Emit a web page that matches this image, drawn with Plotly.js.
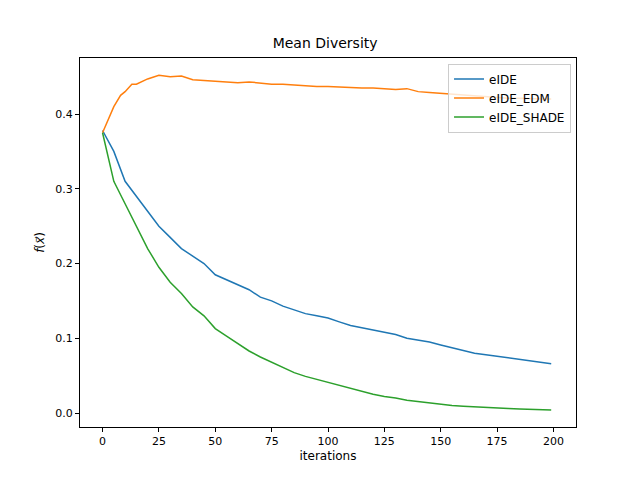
<!DOCTYPE html>
<html>
<head>
<script src="https://cdn.plot.ly/plotly-3.0.1.min.js"></script>
<style>body{margin:0}#plot{width:640px;height:480px}</style>
</head>
<body>
<div id="plot"></div>
<script>
const iterations = [0,5,10,15,20,25,30,35,40,45,50,55,60,65,70,75,80,85,90,95,100,105,110,115,120,125,130,135,140,145,150,155,160,165,170,175,180,185,190,195,199];
const eIDE = [0.378,0.35,0.31,0.29,0.27,0.25,0.235,0.22,0.21,0.2,0.185,0.178,0.172,0.165,0.155,0.15,0.143,0.138,0.133,0.13,0.127,0.122,0.117,0.114,0.111,0.108,0.105,0.1,0.098,0.095,0.091,0.087,0.083,0.08,0.078,0.076,0.074,0.071,0.069,0.067,0.066];
const edmIterations = [0,2,5,8,10,13,15,20,25,30,35,40,45,50,55,60,65,70,75,80,85,90,95,100,105,110,115,120,125,130,135,140,145,150,155,160,165,170,175,180,185,190,195,199];
const eIDE_EDM = [0.375,0.39,0.41,0.425,0.43,0.44,0.44,0.447,0.452,0.45,0.451,0.446,0.445,0.444,0.443,0.442,0.443,0.441,0.44,0.44,0.439,0.438,0.437,0.437,0.436,0.436,0.435,0.435,0.434,0.433,0.434,0.43,0.429,0.428,0.426,0.425,0.424,0.423,0.422,0.421,0.421,0.42,0.42,0.42];
const eIDE_SHADE = [0.375,0.31,0.28,0.25,0.22,0.195,0.175,0.16,0.142,0.13,0.113,0.103,0.093,0.083,0.075,0.068,0.06,0.054,0.049,0.045,0.04,0.036,0.032,0.028,0.025,0.022,0.02,0.017,0.015,0.013,0.012,0.01,0.009,0.008,0.0075,0.007,0.006,0.0055,0.005,0.0045,0.004];

const line = (name, x, y, color) => ({type: "scatter", mode: "lines", name, x, y, line: {color, width: 1.5}});
const axis = {
    showgrid: false, zeroline: false, showline: true, mirror: true,
    linecolor: "#000", linewidth: 1, ticks: "outside", ticklen: 4, tickcolor: "#000",
    tickfont: {size: 11},
};
Plotly.newPlot("plot", [
    line("eIDE", iterations, eIDE, "#1f77b4"),
    line("eIDE_EDM", edmIterations, eIDE_EDM, "#ff7f0e"),
    line("eIDE_SHADE", iterations, eIDE_SHADE, "#2ca02c"),
], {
    width: 640, height: 480,
    margin: {l: 80, r: 64, t: 58, b: 53},
    font: {family: "DejaVu Sans", size: 12, color: "#000"},
    title: {text: "Mean Diversity", x: 0.508, y: 0.91, yanchor: "middle", font: {size: 14}},
    xaxis: {...axis, range: [-10, 210], tickvals: [0,25,50,75,100,125,150,175,200], title: {text: "iterations", standoff: 4, font: {size: 12}}},
    yaxis: {...axis, range: [-0.0187, 0.475], tickvals: [0,0.1,0.2,0.3,0.4], tickformat: ".1f", title: {text: "<i>f</i>(<i>x⃗</i>)", standoff: 8, font: {size: 12}}},
    legend: {x: 0.99, y: 0.985, xanchor: "right", yanchor: "top", bordercolor: "#ccc", borderwidth: 1, bgcolor: "rgba(255,255,255,0.8)", font: {size: 12}},
    showlegend: true,
    paper_bgcolor: "#fff", plot_bgcolor: "#fff",
}, {displayModeBar: false});
</script>
</body>
</html>
